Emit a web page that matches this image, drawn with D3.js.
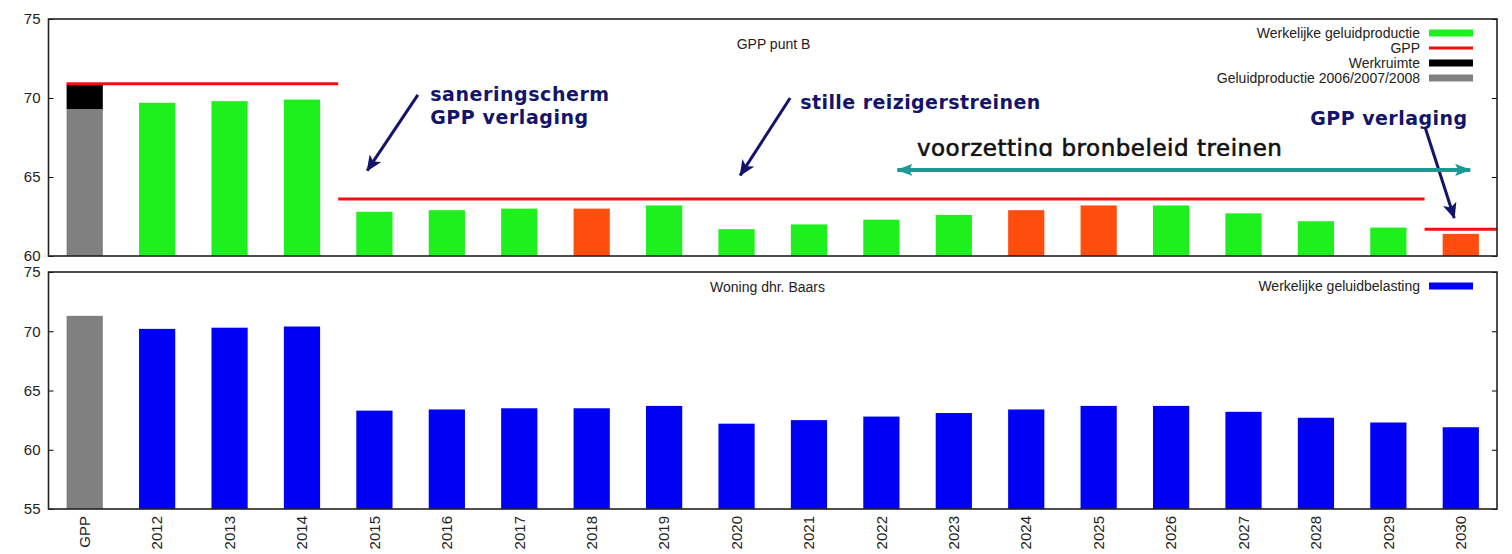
<!DOCTYPE html>
<html>
<head>
<meta charset="utf-8">
<script src="https://cdn.jsdelivr.net/npm/d3@7"></script>
<style>
body { margin: 0; background: #fff; }
svg { display: block; font-family: "Liberation Sans", Arial, sans-serif; }
</style>
</head>
<body>
<div id="chart"></div>
<script>
// categories on the x axis
var categories = ["GPP", "2012", "2013", "2014", "2015", "2016", "2017", "2018", "2019", "2020",
    "2021", "2022", "2023", "2024", "2025", "2026", "2027", "2028", "2029", "2030"];

// top panel: GPP punt B
var productie = [null, 69.7, 69.8, 69.9, 62.8, 62.9, 63.0, 63.0, 63.2, 61.7,
    62.0, 62.3, 62.6, 62.9, 63.2, 63.2, 62.7, 62.2, 61.8, 61.4];
var overschrijding = ["2018", "2024", "2025", "2030"]; // drawn orange
var gppProductie = 69.3;   // geluidproductie 2006/2007/2008
var gppWerkruimte = 70.9;  // top of the werkruimte block
var gppGrens = [
    { start: "GPP", end: "2014", value: 70.9 },
    { start: "2015", end: "2029", value: 63.6 },
    { start: "2030", end: "2030", value: 61.7 }
];
var topTicks = [60, 65, 70, 75];

// bottom panel: Woning dhr. Baars
var belasting = [null, 70.2, 70.3, 70.4, 63.3, 63.4, 63.5, 63.5, 63.7, 62.2,
    62.5, 62.8, 63.1, 63.4, 63.7, 63.7, 63.2, 62.7, 62.3, 61.9];
var belastingGpp = 71.3;
var bottomTicks = [55, 60, 65, 70, 75];

// annotations, positions as [category index, dB]
var arrows = [
    { from: [5.10, 70.2], to: [4.40, 65.4] },
    { from: [10.24, 70.0], to: [9.55, 65.1] },
    { from: [19.01, 68.1], to: [19.41, 62.4] }
];
var notes = [
    { text: "saneringscherm", at: [5.27, 69.8], len: 179 },
    { text: "GPP verlaging", at: [5.27, 68.35], len: 158 },
    { text: "stille reizigerstreinen", at: [10.38, 69.3], len: 240 },
    { text: "GPP verlaging", at: [17.42, 68.29], len: 157 }
];
var bronbeleid = { text: "voorzetting bronbeleid treinen", at: [11.99, 66.35], len: 365, from: 11.72, to: 19.63, value: 65.45 };

var margin = { top: 19, left: 48.5 },
    width = 1448.5,
    panelHeight = 237,
    gapBetween = 16;

var svg = d3.select("#chart").append("svg")
    .attr("width", 1512)
    .attr("height", 554);

var defs = svg.append("defs");
defs.append("marker")
    .attr("id", "navyHead")
    .attr("markerUnits", "userSpaceOnUse")
    .attr("markerWidth", 16).attr("markerHeight", 14)
    .attr("refX", 15).attr("refY", 7)
    .attr("orient", "auto")
    .append("path").attr("d", "M0,0 L16,7 L0,14 L4,7 z").attr("fill", "#14146b");
defs.append("marker")
    .attr("id", "tealHead")
    .attr("markerUnits", "userSpaceOnUse")
    .attr("markerWidth", 16).attr("markerHeight", 12)
    .attr("refX", 15).attr("refY", 6)
    .attr("orient", "auto-start-reverse")
    .append("path").attr("d", "M0,0 L16,6 L0,12 L3,6 z").attr("fill", "#1a9a95");

var x = d3.scaleBand()
    .domain(categories)
    .range([0, width])
    .paddingInner(0.5)
    .paddingOuter(0.25);
var gap = x.step() - x.bandwidth();
var xi = d3.scaleLinear().domain([0, categories.length]).range([0, width]);

function drawFrame(g, y, ticks) {
    g.append("g")
        .call(d3.axisLeft(y).tickValues(ticks).tickSize(-5).tickPadding(8))
        .call(function (a) { a.select(".domain").remove(); })
        .selectAll("text").style("font-size", "15px").attr("fill", "#222");
    g.append("g")
        .attr("transform", "translate(" + width + ",0)")
        .call(d3.axisRight(y).tickValues(ticks).tickSize(-5).tickFormat(""))
        .call(function (a) { a.select(".domain").remove(); });
    g.append("rect")
        .attr("width", width)
        .attr("height", panelHeight)
        .attr("fill", "none")
        .attr("stroke", "#222")
        .attr("stroke-width", 1.6);
}

function legend(g, items) {
    var row = g.selectAll(".leg").data(items).enter().append("g")
        .attr("class", "leg")
        .attr("transform", function (d, i) { return "translate(" + (width - 77) + "," + (14 + i * 15) + ")"; });
    row.append("text")
        .attr("text-anchor", "end")
        .attr("dy", "0.35em")
        .style("font-size", "14px")
        .attr("fill", "#222")
        .text(function (d) { return d.label; });
    row.append("rect")
        .attr("x", 9).attr("width", 44)
        .attr("y", function (d) { return d.line ? -1.5 : -3.5; })
        .attr("height", function (d) { return d.line ? 3 : 7; })
        .attr("fill", function (d) { return d.color; });
}

// ---- top panel ----
var topPanel = svg.append("g").attr("transform", "translate(" + margin.left + "," + margin.top + ")");
var yTop = d3.scaleLinear().domain([60, 75]).range([panelHeight, 0]);

topPanel.append("rect")
    .attr("x", x("GPP")).attr("width", x.bandwidth())
    .attr("y", yTop(gppProductie)).attr("height", yTop(60) - yTop(gppProductie))
    .attr("fill", "#808080");
topPanel.append("rect")
    .attr("x", x("GPP")).attr("width", x.bandwidth())
    .attr("y", yTop(gppWerkruimte)).attr("height", yTop(gppProductie) - yTop(gppWerkruimte))
    .attr("fill", "#000");

var prodData = categories.map(function (c, i) { return { cat: c, value: productie[i] }; })
    .filter(function (d) { return d.value != null; });
topPanel.selectAll(".bar")
    .data(prodData)
    .enter().append("rect")
    .attr("class", "bar")
    .attr("x", function (d) { return x(d.cat); })
    .attr("width", x.bandwidth())
    .attr("y", function (d) { return yTop(d.value); })
    .attr("height", function (d) { return yTop(60) - yTop(d.value); })
    .attr("fill", function (d) { return overschrijding.indexOf(d.cat) >= 0 ? "#ff4d0d" : "#1ef01e"; });

topPanel.selectAll(".gpp")
    .data(gppGrens)
    .enter().append("line")
    .attr("x1", function (d) { return d.start === categories[0] ? x(d.start) : x(d.start) - gap / 2; })
    .attr("x2", function (d) { return Math.min(width, x(d.end) + x.bandwidth() + gap / 2); })
    .attr("y1", function (d) { return yTop(d.value); })
    .attr("y2", function (d) { return yTop(d.value); })
    .attr("stroke", "#f01010")
    .attr("stroke-width", 3);

topPanel.append("text")
    .attr("x", 725).attr("y", 25)
    .attr("text-anchor", "middle")
    .attr("dy", "0.35em")
    .style("font-size", "14px")
    .attr("fill", "#222")
    .text("GPP punt B");

legend(topPanel, [
    { label: "Werkelijke geluidproductie", color: "#1ef01e" },
    { label: "GPP", color: "#f01010", line: true },
    { label: "Werkruimte", color: "#000" },
    { label: "Geluidproductie 2006/2007/2008", color: "#808080" }
]);

// annotations
topPanel.selectAll(".arrow")
    .data(arrows)
    .enter().append("line")
    .attr("x1", function (d) { return xi(d.from[0]); })
    .attr("y1", function (d) { return yTop(d.from[1]); })
    .attr("x2", function (d) { return xi(d.to[0]); })
    .attr("y2", function (d) { return yTop(d.to[1]); })
    .attr("stroke", "#14146b")
    .attr("stroke-width", 3)
    .attr("marker-end", "url(#navyHead)");

topPanel.selectAll(".note")
    .data(notes)
    .enter().append("text")
    .attr("x", function (d) { return xi(d.at[0]); })
    .attr("y", function (d) { return yTop(d.at[1]); })
    .attr("textLength", function (d) { return d.len; })
    .attr("lengthAdjust", "spacing")
    .style("font-family", "'DejaVu Sans', Verdana, sans-serif")
    .style("font-weight", "bold")
    .style("font-size", "19px")
    .attr("fill", "#14146b")
    .text(function (d) { return d.text; });

// the bronbeleid label is cut off at its baseline in the original
defs.append("clipPath").attr("id", "cutText")
    .append("rect")
    .attr("x", 0).attr("y", 0)
    .attr("width", width)
    .attr("height", yTop(bronbeleid.at[1]) + 0.5);
topPanel.append("text")
    .attr("clip-path", "url(#cutText)")
    .attr("x", xi(bronbeleid.at[0]))
    .attr("y", yTop(bronbeleid.at[1]))
    .attr("textLength", bronbeleid.len)
    .attr("lengthAdjust", "spacing")
    .style("font-family", "'DejaVu Sans', Verdana, sans-serif")
    .style("font-size", "23px")
    .attr("fill", "#111")
    .attr("stroke", "#111")
    .attr("stroke-width", 0.6)
    .text(bronbeleid.text);
topPanel.append("line")
    .attr("x1", xi(bronbeleid.from)).attr("x2", xi(bronbeleid.to))
    .attr("y1", yTop(bronbeleid.value)).attr("y2", yTop(bronbeleid.value))
    .attr("stroke", "#1a9a95")
    .attr("stroke-width", 4)
    .attr("marker-start", "url(#tealHead)")
    .attr("marker-end", "url(#tealHead)");

drawFrame(topPanel, yTop, topTicks);

// ---- bottom panel ----
var bottomPanel = svg.append("g").attr("transform", "translate(" + margin.left + "," + (margin.top + panelHeight + gapBetween) + ")");
var yBot = d3.scaleLinear().domain([55, 75]).range([panelHeight, 0]);

bottomPanel.append("rect")
    .attr("x", x("GPP")).attr("width", x.bandwidth())
    .attr("y", yBot(belastingGpp)).attr("height", yBot(55) - yBot(belastingGpp))
    .attr("fill", "#808080");

var belData = categories.map(function (c, i) { return { cat: c, value: belasting[i] }; })
    .filter(function (d) { return d.value != null; });
bottomPanel.selectAll(".bar")
    .data(belData)
    .enter().append("rect")
    .attr("class", "bar")
    .attr("x", function (d) { return x(d.cat); })
    .attr("width", x.bandwidth())
    .attr("y", function (d) { return yBot(d.value); })
    .attr("height", function (d) { return yBot(55) - yBot(d.value); })
    .attr("fill", "#0000f5");

bottomPanel.append("text")
    .attr("x", 719).attr("y", 15)
    .attr("text-anchor", "middle")
    .attr("dy", "0.35em")
    .style("font-size", "14px")
    .attr("fill", "#222")
    .text("Woning dhr. Baars");

legend(bottomPanel, [{ label: "Werkelijke geluidbelasting", color: "#0000f5" }]);

drawFrame(bottomPanel, yBot, bottomTicks);

// x labels, rotated
bottomPanel.append("g")
    .attr("transform", "translate(0," + panelHeight + ")")
    .call(d3.axisBottom(x).tickSize(0).tickPadding(0))
    .call(function (a) { a.select(".domain").remove(); })
    .selectAll("text")
    .style("font-size", "15px")
    .attr("fill", "#222")
    .attr("transform", "rotate(-90)")
    .attr("text-anchor", "end")
    .attr("x", -7)
    .attr("y", 0)
    .attr("dy", "0.35em");
</script>
</body>
</html>
